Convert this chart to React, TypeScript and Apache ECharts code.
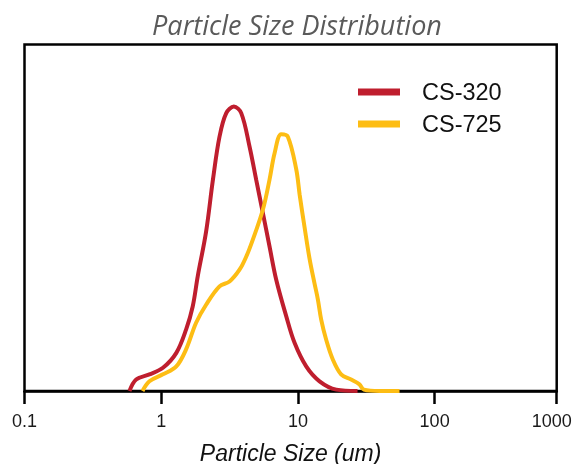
import React, { useEffect, useRef } from "react";
import * as echarts from "echarts";

const titleText = "Particle Size Distribution";
const xAxisName = "Particle Size (um)";
const seriesNames = ["CS-320", "CS-725"];
const seriesColors = ["#BF1E2E", "#FDBD14"];

// particle sizes (µm) and relative volume values
const cs320Sizes = [0.586, 0.656, 0.82, 1.03, 1.29, 1.52, 1.7, 1.85, 2.13, 2.39, 2.67, 2.99, 3.4, 3.85, 4.43, 4.95, 5.54, 6.2, 6.94, 8.21, 9.45, 11.5, 14.4, 19.1, 27.3];
const cs320Values = [0.0, 0.33, 0.48, 0.67, 1.1, 1.77, 2.44, 3.31, 4.6, 6.1, 7.34, 8.02, 8.21, 8.02, 7.05, 6.1, 5.14, 4.17, 3.21, 2.16, 1.39, 0.71, 0.28, 0.04, 0.0];

const cs725Sizes = [0.73, 0.82, 1.03, 1.29, 1.52, 1.8, 2.13, 2.67, 3.16, 3.74, 4.19, 4.68, 5.54, 6.2, 6.75, 7.55, 8.44, 9.72, 10.3, 11.2, 12.2, 13.2, 14.0, 14.8, 16.1, 18.0, 20.7, 24.5, 28.2, 30.4, 39.5, 55.4];
const cs725Values = [0.0, 0.28, 0.48, 0.71, 1.2, 1.97, 2.49, 3.02, 3.16, 3.5, 3.88, 4.37, 5.23, 6.1, 6.86, 7.41, 7.34, 6.4, 5.66, 4.71, 3.79, 3.12, 2.64, 2.06, 1.48, 0.91, 0.48, 0.33, 0.19, 0.04, 0.0, 0.0];

// x axis in log10 space: ticks 0.1, 1, 10, 100, and 1000 at the right edge
const xMinLog = -1;
const xMaxLog = 2.893;

export default function App() {
  const ref = useRef<HTMLDivElement>(null);
  useEffect(() => {
    if (!ref.current) return;
    const chart = echarts.init(ref.current, null, { renderer: "svg" });
    const toPairs = (s: number[], v: number[]) => s.map((x, i) => [Math.log10(x), v[i]]);
    chart.setOption({
      animation: false,
      title: {
        text: titleText,
        left: 292,
        textAlign: "center",
        top: 6,
        textStyle: {
          fontFamily: "Open Sans",
          fontStyle: "italic",
          fontWeight: "normal",
          fontSize: 27,
          color: "#5a5a5a",
        },
      },
      legend: {
        orient: "vertical",
        left: 358,
        top: 80,
        padding: 0,
        icon: "rect",
        itemWidth: 42,
        itemHeight: 7,
        itemGap: 8,
        textStyle: {
          fontFamily: "Liberation Sans",
          fontSize: 23.5,
          lineHeight: 22,
          color: "#111",
          padding: [0, 0, 0, 17],
        },
        data: seriesNames,
      },
      grid: {
        left: 24.5,
        right: 16.3,
        top: 44.5,
        bottom: 73,
        show: true,
        borderColor: "#000",
        borderWidth: 2.5,
        containLabel: false,
        outerBoundsMode: "none",
      },
      xAxis: {
        type: "value",
        min: xMinLog,
        max: xMaxLog,
        interval: 1,
        name: xAxisName,
        nameLocation: "middle",
        nameGap: 50,
        nameTextStyle: {
          fontFamily: "Liberation Sans",
          fontStyle: "italic",
          fontSize: 23,
          color: "#111",
        },
        axisLine: { show: true, lineStyle: { color: "#000", width: 2.5 } },
        axisTick: { show: true, length: 13, lineStyle: { color: "#000", width: 2.5 } },
        axisLabel: {
          showMinLabel: true,
          showMaxLabel: true,
          margin: 21,
          fontFamily: "Liberation Sans",
          fontSize: 18,
          color: "#1a1a1a",
          formatter: (v: number) =>
            v > 2.5 ? "{edge|1000}" : String(Number(Math.pow(10, v).toPrecision(2))),
          rich: {
            edge: {
              fontFamily: "Liberation Sans",
              fontSize: 18,
              color: "#1a1a1a",
              padding: [0, 10, 0, 0],
            },
          },
        },
        splitLine: { show: false },
      },
      yAxis: {
        type: "value",
        min: 0,
        max: 10,
        show: false,
        splitLine: { show: false },
      },
      series: [
        {
          name: seriesNames[0],
          type: "line",
          data: toPairs(cs320Sizes, cs320Values),
          showSymbol: false,
          smooth: 0.35,
          color: seriesColors[0],
          lineStyle: { width: 4, color: seriesColors[0] },
        },
        {
          name: seriesNames[1],
          type: "line",
          data: toPairs(cs725Sizes, cs725Values),
          showSymbol: false,
          smooth: 0.35,
          color: seriesColors[1],
          lineStyle: { width: 4, color: seriesColors[1] },
        },
      ],
    });
    return () => chart.dispose();
  }, []);
  return (
    <div
      ref={ref}
      style={{ position: "fixed", left: 0, top: 0, width: 573, height: 464 }}
    />
  );
}
